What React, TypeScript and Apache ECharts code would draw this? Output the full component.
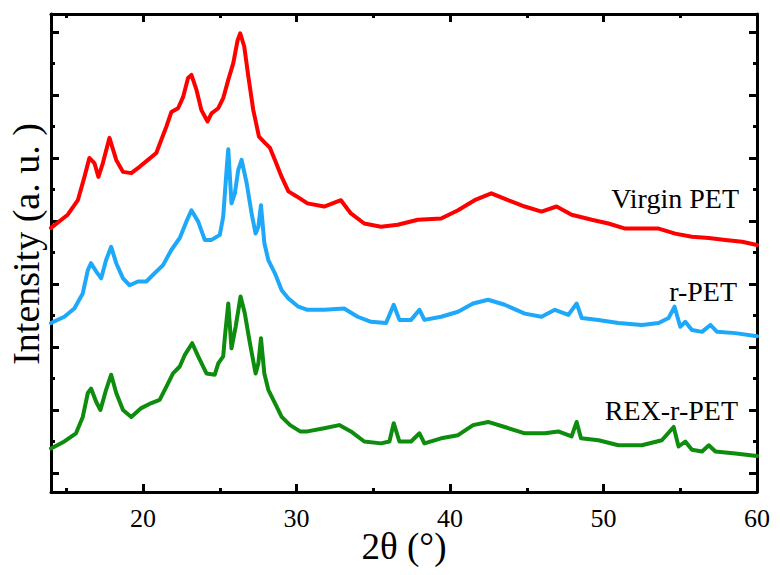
import React, { useEffect, useRef } from "react";
import * as echarts from "echarts";

// 2θ (degrees) and intensity (a. u.)
const virginTheta = [14.0, 15.09, 15.75, 16.18, 16.5, 16.83, 17.09, 17.38, 17.81, 18.25, 18.69, 19.23, 19.77, 20.32, 20.86, 21.19, 21.52, 21.84, 22.28, 22.61, 22.93, 23.15, 23.48, 23.8, 24.2, 24.46, 24.9, 25.22, 25.55, 25.88, 26.16, 26.33, 26.59, 26.86, 27.18, 27.55, 27.94, 28.27, 28.59, 29.03, 29.47, 30.01, 30.71, 31.8, 32.89, 33.54, 34.41, 35.5, 36.59, 37.9, 39.42, 40.52, 41.6, 42.69, 43.78, 44.87, 45.96, 46.94, 47.92, 49.23, 50.32, 51.41, 52.5, 53.59, 54.67, 55.76, 56.86, 57.94, 59.03, 60.0];
const virginIntensity = [389, 410, 433, 470, 500, 492, 470, 492, 532, 497, 478, 476, 486, 497, 508, 529, 550, 573, 579, 597, 627, 632, 608, 576, 558, 571, 579, 595, 624, 651, 687, 698, 677, 629, 576, 534, 524, 516, 497, 470, 447, 439, 428, 423, 433, 412, 396, 391, 394, 402, 404, 417, 433, 444, 433, 423, 415, 423, 410, 402, 396, 388, 388, 388, 380, 375, 373, 370, 367, 362];

const rPetTheta = [14.0, 14.87, 15.52, 16.07, 16.4, 16.61, 16.94, 17.27, 17.59, 17.92, 18.25, 18.69, 19.12, 19.67, 20.21, 20.75, 21.3, 21.84, 22.39, 22.82, 23.15, 23.59, 24.02, 24.46, 25.0, 25.22, 25.44, 25.55, 25.76, 25.98, 26.2, 26.42, 26.75, 27.07, 27.33, 27.51, 27.68, 27.9, 28.16, 28.59, 29.03, 29.47, 30.12, 30.71, 31.8, 33.1, 33.98, 34.85, 35.83, 36.33, 36.7, 37.46, 38.01, 38.33, 39.42, 40.52, 41.5, 42.48, 43.56, 44.87, 45.96, 46.83, 47.71, 48.25, 48.58, 49.67, 50.97, 52.5, 53.59, 54.24, 54.63, 55.0, 55.33, 55.76, 56.42, 56.96, 57.4, 58.59, 60.0];
const rPetIntensity = [238, 248, 261, 285, 322, 333, 320, 309, 338, 359, 333, 309, 298, 304, 304, 317, 330, 354, 373, 399, 417, 399, 370, 370, 378, 407, 481, 514, 428, 444, 481, 497, 460, 412, 380, 391, 425, 365, 338, 317, 290, 277, 264, 259, 259, 261, 248, 240, 238, 267, 243, 243, 259, 243, 248, 256, 269, 275, 267, 253, 248, 259, 251, 269, 246, 243, 238, 235, 238, 246, 264, 232, 240, 227, 224, 235, 224, 222, 217];

const rexTheta = [14.0, 14.87, 15.63, 16.07, 16.4, 16.61, 16.94, 17.22, 17.59, 17.92, 18.25, 18.69, 19.23, 19.88, 20.54, 21.08, 21.52, 21.95, 22.39, 22.71, 23.2, 23.59, 24.13, 24.67, 24.9, 25.22, 25.33, 25.55, 25.76, 26.03, 26.35, 26.63, 26.96, 27.33, 27.51, 27.68, 27.9, 28.16, 28.59, 29.03, 29.58, 30.23, 30.71, 31.8, 32.78, 33.54, 34.41, 35.5, 36.05, 36.33, 36.7, 37.46, 38.01, 38.33, 39.42, 40.52, 41.5, 42.48, 43.56, 44.87, 46.18, 47.05, 47.92, 48.25, 48.53, 49.67, 50.97, 52.5, 53.8, 54.57, 54.89, 55.33, 55.76, 56.42, 56.86, 57.29, 58.59, 60.0];
const rexIntensity = [39, 50, 63, 89, 127, 134, 113, 100, 132, 156, 127, 100, 89, 103, 111, 116, 137, 158, 169, 187, 206, 185, 158, 156, 174, 185, 216, 269, 198, 232, 280, 253, 206, 158, 174, 214, 158, 132, 111, 89, 76, 66, 66, 71, 76, 66, 50, 47, 50, 79, 50, 50, 63, 47, 55, 60, 76, 81, 73, 63, 63, 66, 58, 81, 55, 52, 44, 44, 52, 73, 42, 50, 37, 34, 44, 34, 31, 27];

const seriesNames = ["Virgin PET", "r-PET", "REX-r-PET"];
const seriesColors = ["#ff0000", "#1ea8fa", "#0e8c0e"];

const xMajor = [20, 30, 40, 50, 60];
const xMinor = [15, 25, 35, 45, 55];
const xTickLabels = ["20", "30", "40", "50", "60"];
const yMajor = [0, 100, 200, 300, 400, 500, 600, 700];
const yMinor = [50, 150, 250, 350, 450, 550, 650];

const X_MIN = 14;
const X_MAX = 60;
const Y_MIN = -30.2;
const Y_MAX = 728.6;

const FONT = "Liberation Serif";

function zip(xs: number[], ys: number[]) {
  return xs.map((x, i) => [x, ys[i]]);
}

export default function App() {
  const ref = useRef<HTMLDivElement>(null);

  useEffect(() => {
    if (!ref.current) return;
    const chart = echarts.init(ref.current, undefined, { renderer: "svg" });

    const xAxisBase = (position: "top" | "bottom", ticks: number[], len: number, showLine: boolean) => ({
      type: "value" as const,
      position,
      min: X_MIN,
      max: X_MAX,
      splitLine: { show: false },
      axisLine: { show: showLine, onZero: false, lineStyle: { color: "#000", width: 3 } },
      axisTick: { show: true, inside: true, length: len, customValues: ticks, lineStyle: { color: "#000", width: 3 } },
      axisLabel: { show: false },
    });

    const yAxisBase = (position: "left" | "right", ticks: number[], len: number, showLine: boolean) => ({
      type: "value" as const,
      position,
      min: Y_MIN,
      max: Y_MAX,
      splitLine: { show: false },
      axisLine: { show: showLine, onZero: false, lineStyle: { color: "#000", width: 3 } },
      axisTick: { show: true, inside: true, length: len, customValues: ticks, lineStyle: { color: "#000", width: 3 } },
      axisLabel: { show: false },
    });

    const datasets = [
      zip(virginTheta, virginIntensity),
      zip(rPetTheta, rPetIntensity),
      zip(rexTheta, rexIntensity),
    ];

    const textBase = { fill: "#000", fontFamily: FONT, fontWeight: "normal" };

    chart.setOption({
      animation: false,
      backgroundColor: "#fff",
      textStyle: { fontFamily: FONT },
      grid: { left: 51, right: 23, top: 14, bottom: 83, containLabel: false },
      xAxis: [
        xAxisBase("bottom", xMajor, 8, true),
        xAxisBase("bottom", xMinor, 4, false),
        xAxisBase("top", xMajor, 8, true),
        xAxisBase("top", xMinor, 4, false),
      ],
      yAxis: [
        yAxisBase("left", yMajor, 8, true),
        yAxisBase("left", yMinor, 4, false),
        yAxisBase("right", yMajor, 8, true),
        yAxisBase("right", yMinor, 4, false),
      ],
      series: datasets.map((d, i) => ({
        name: seriesNames[i],
        type: "line",
        xAxisIndex: 0,
        yAxisIndex: 0,
        data: d,
        showSymbol: false,
        symbol: "none",
        smooth: false,
        lineStyle: { color: seriesColors[i], width: 4, join: "round", cap: "round" },
        z: 3 - i,
      })),
    });

    // tick labels positioned through the axis scale
    const axisY = chart.convertToPixel({ yAxisIndex: 0 }, Y_MIN) as number;
    const tickLabelGraphics = xMajor.map((v, i) => ({
      type: "text",
      x: chart.convertToPixel({ xAxisIndex: 0 }, v) as number,
      y: axisY + 26,
      style: { ...textBase, text: xTickLabels[i], fontSize: 26, textAlign: "center", textVerticalAlign: "middle" },
    }));

    chart.setOption({
      graphic: [
        ...tickLabelGraphics,
        {
          type: "text",
          x: 739,
          y: 212,
          style: { ...textBase, text: seriesNames[0], fontSize: 28, textAlign: "right", textVerticalAlign: "bottom" },
        },
        {
          type: "text",
          x: 737,
          y: 305,
          style: { ...textBase, text: seriesNames[1], fontSize: 28, textAlign: "right", textVerticalAlign: "bottom" },
        },
        {
          type: "text",
          x: 738,
          y: 424,
          style: { ...textBase, text: seriesNames[2], fontSize: 28, textAlign: "right", textVerticalAlign: "bottom" },
        },
        {
          type: "text",
          x: 404,
          y: 546,
          style: { ...textBase, text: "2θ (°)", fontSize: 37, textAlign: "center", textVerticalAlign: "middle" },
        },
        {
          type: "text",
          x: 26,
          y: 244,
          rotation: Math.PI / 2,
          style: { ...textBase, text: "Intensity (a. u. )", fontSize: 38, textAlign: "center", textVerticalAlign: "middle" },
        },
      ],
    });

    return () => chart.dispose();
  }, []);

  return <div ref={ref} style={{ position: "fixed", left: 0, top: 0, width: 780, height: 575 }} />;
}
